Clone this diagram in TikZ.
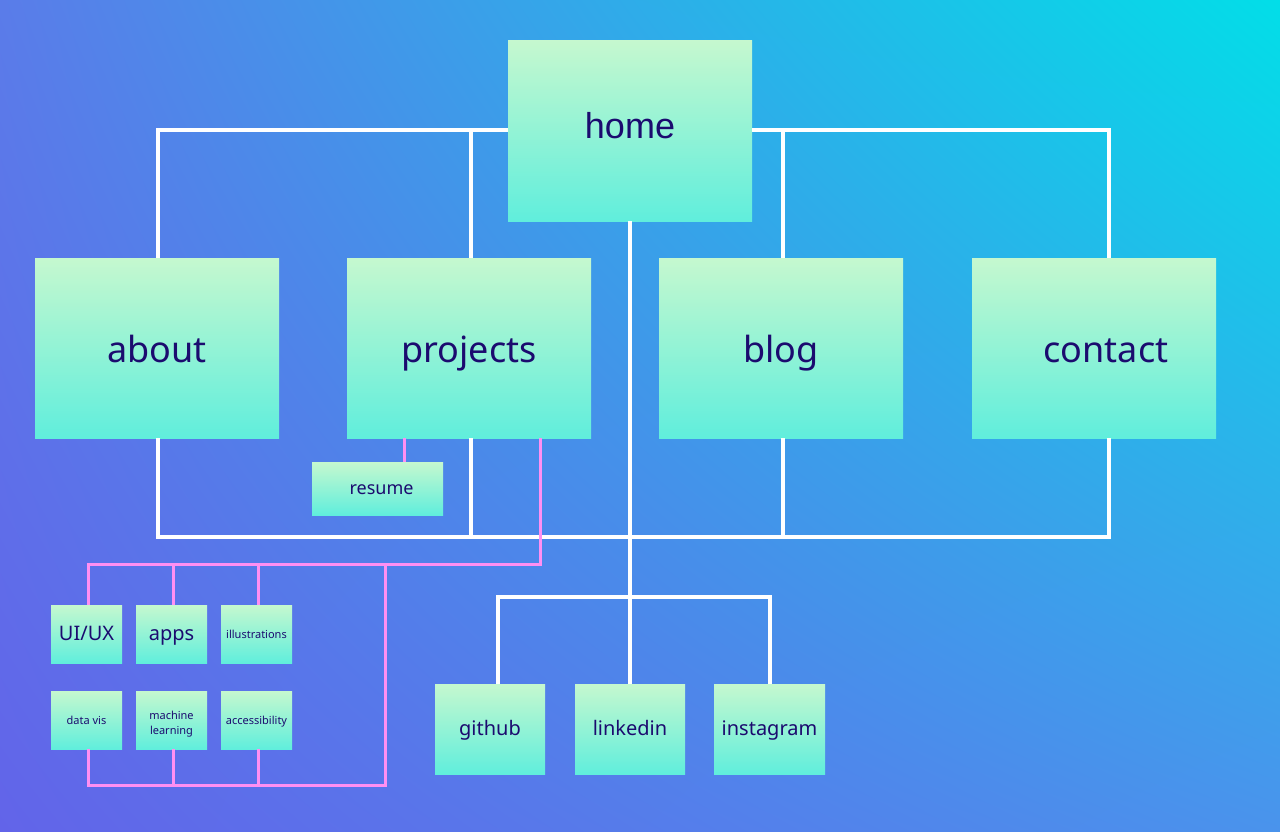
\documentclass[tikz,border=0pt]{standalone}
\usepackage{fontspec}
\setmainfont{Noto Sans}
\newfontfamily\homefont{Liberation Sans}
\usetikzlibrary{shadings}
\definecolor{navy}{HTML}{1B0B6F}
\definecolor{bgUL}{HTML}{5A7CE9}
\definecolor{bgUR}{HTML}{02DEE8}
\definecolor{bgLL}{HTML}{6264E9}
\definecolor{bgLR}{HTML}{4A93EC}
\definecolor{boxtop}{HTML}{C5F8CF}
\definecolor{boxbot}{HTML}{60EEDC}
\definecolor{pinkline}{HTML}{FF8FF2}
\tikzset{
  box/.style={rectangle, inner sep=0pt, top color=boxtop, bottom color=boxbot, text=navy, align=center},
  mid/.style={text height=14pt, text depth=2pt},
  tiny/.style={text height=9pt, text depth=1pt},
  bigbox/.style={box, minimum width=244pt, minimum height=180pt, font=\fontsize{36}{40}\selectfont, text height=30pt, text depth=2pt},
  socbox/.style={box, mid, minimum width=110pt, minimum height=90pt, font=\fontsize{20}{24}\selectfont},
  smallbox/.style={box, minimum width=71pt, minimum height=58pt},
  wline/.style={draw=white, line width=4pt, line join=miter},
  pline/.style={draw=pinkline, line width=3pt, line join=miter},
}
\begin{document}
\begin{tikzpicture}[x=1pt,y=-1pt]
\shade[upper left=bgUL, upper right=bgUR, lower left=bgLL, lower right=bgLR] (0,0) rectangle (1280,832);
\useasboundingbox (0,0) rectangle (1280,832);

% nodes
\node[bigbox, text height=20pt, text depth=4pt] (home) at (630,131) {\homefont home};
\node[bigbox] (about) at (157,348) {about};
\node[bigbox] (projects) at (469,348) {projects};
\node[bigbox] (blog) at (781,348) {blog};
\node[bigbox] (contact) at (1094,348) {\hspace*{24pt}contact};
\node[box, text height=13pt, text depth=2pt, minimum width=131pt, minimum height=53pt, font=\fontsize{18}{22}\selectfont] (resume) at (377.5,488.5) {\hspace*{8pt}resume};
\node[smallbox, mid, font=\fontsize{20}{24}\selectfont] (uiux) at (86.5,634) {UI/UX};
\node[smallbox, mid, font=\fontsize{20}{24}\selectfont] (apps) at (171.5,634) {apps};
\node[smallbox, tiny, font=\fontsize{11}{13}\selectfont] (illus) at (256.5,634) {illustrations};
\node[smallbox, tiny, font=\fontsize{11}{13}\selectfont] (datavis) at (86.5,720) {data vis};
\node[smallbox, font=\fontsize{11}{15}\selectfont] (ml) at (171.5,720) {\rule{0pt}{16pt}machine\\learning};
\node[smallbox, tiny, font=\fontsize{11}{13}\selectfont] (acc) at (256.5,720) {accessibility};
\node[socbox] (github) at (490,729) {github};
\node[socbox] (linkedin) at (630,729) {linkedin};
\node[socbox, minimum width=111pt] (instagram) at (769.5,729) {instagram};

% junction coordinates
\coordinate (tl) at (158,130);
\coordinate (tr) at (1109,130);
\coordinate (pj) at (471,130);
\coordinate (bj) at (783,130);
\coordinate (bl) at (158,537);
\coordinate (br) at (1109,537);
\coordinate (pjb) at (471,537);
\coordinate (bjb) at (783,537);
\coordinate (sl) at (498,597);
\coordinate (sr) at (770,597);
\coordinate (rs) at (404,450);
\coordinate (pp) at (540,564);
\coordinate (k1) at (88,564);
\coordinate (k2) at (173,564);
\coordinate (k3) at (258,564);
\coordinate (kr) at (385,564);
\coordinate (b1) at (88,785);
\coordinate (b2) at (173,785);
\coordinate (b3) at (258,785);
\coordinate (bkr) at (385,785);

% white connectors
\draw[wline] (home.west |- tl) -- (tl) -- (tl |- about.north);
\draw[wline] (pj) -- (pj |- projects.north);
\draw[wline] (home.east |- tr) -- (tr) -- (tr |- contact.north);
\draw[wline] (bj) -- (bj |- blog.north);
\draw[wline] (bl |- about.south) -- (bl) -- (br) -- (br |- contact.south);
\draw[wline] (pjb |- projects.south) -- (pjb);
\draw[wline] (bjb |- blog.south) -- (bjb);
\draw[wline] (home.south) -- (linkedin.north);
\draw[wline] (sl |- github.north) -- (sl) -- (sr) -- (sr |- instagram.north);

% pink connectors
\draw[pline] (rs |- projects.south) -- (rs |- resume.north);
\draw[pline] (pp |- projects.south) -- (pp) -- (k1) -- (k1 |- uiux.north);
\draw[pline] (k2) -- (k2 |- apps.north);
\draw[pline] (k3) -- (k3 |- illus.north);
\draw[pline] (kr) -- (bkr) -- (b1) -- (b1 |- datavis.south);
\draw[pline] (b2) -- (b2 |- ml.south);
\draw[pline] (b3) -- (b3 |- acc.south);
\end{tikzpicture}
\end{document}
